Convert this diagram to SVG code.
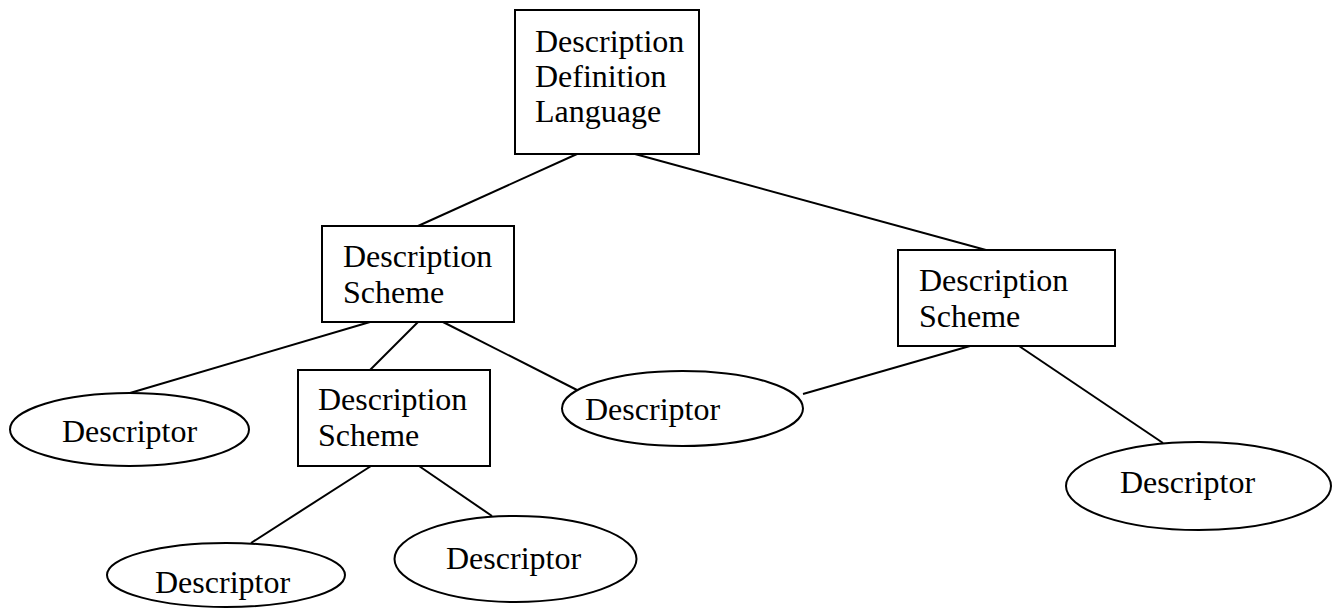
<svg xmlns="http://www.w3.org/2000/svg" width="1333" height="608" viewBox="0 0 1333 608">
  <style>
    .box { fill: #fff; stroke: #000; stroke-width: 2; }
    .oval { fill: #fff; stroke: #000; stroke-width: 2; }
    .link { stroke: #000; stroke-width: 2; fill: none; }
    text { font-family: 'Liberation Serif', 'DejaVu Serif', serif; font-size: 32px; fill: #000; }
  </style>
  <rect width="1333" height="608" fill="#fff"/>

  <!-- connectors -->
  <g id="connectors">
    <line class="link" x1="577" y1="154" x2="418" y2="226"/>
    <line class="link" x1="635" y1="154" x2="986" y2="250"/>
    <line class="link" x1="370" y1="322" x2="130" y2="393"/>
    <line class="link" x1="418" y1="322" x2="370" y2="370"/>
    <line class="link" x1="443" y1="322" x2="577" y2="390"/>
    <line class="link" x1="970" y1="346" x2="803" y2="394"/>
    <line class="link" x1="1019" y1="346" x2="1163" y2="443"/>
    <line class="link" x1="371" y1="466" x2="251" y2="543"/>
    <line class="link" x1="419" y1="466" x2="492" y2="516"/>
  </g>

  <!-- root box -->
  <g id="ddl">
    <rect class="box" x="515" y="10" width="184" height="144"/>
    <text x="535" y="52" font-family="Liberation Serif, serif">Description</text>
    <text x="535" y="87" font-family="Liberation Serif, serif">Definition</text>
    <text x="535" y="122" font-family="Liberation Serif, serif">Language</text>
  </g>

  <!-- description schemes -->
  <g id="ds-left">
    <rect class="box" x="322" y="226" width="192" height="96"/>
    <text x="343" y="267">Description</text>
    <text x="343" y="303">Scheme</text>
  </g>
  <g id="ds-middle">
    <rect class="box" x="298" y="370" width="192" height="96"/>
    <text x="318" y="410">Description</text>
    <text x="318" y="446">Scheme</text>
  </g>
  <g id="ds-right">
    <rect class="box" x="898" y="250" width="217" height="96"/>
    <text x="919" y="291">Description</text>
    <text x="919" y="327">Scheme</text>
  </g>

  <!-- descriptors -->
  <g id="d-left">
    <ellipse class="oval" cx="129.5" cy="429.5" rx="119.5" ry="36.5"/>
    <text x="62" y="442">Descriptor</text>
  </g>
  <g id="d-middle">
    <ellipse class="oval" cx="682.5" cy="408.5" rx="120.5" ry="37.5"/>
    <text x="585" y="420">Descriptor</text>
  </g>
  <g id="d-right">
    <ellipse class="oval" cx="1198.5" cy="486" rx="132.5" ry="44"/>
    <text x="1120" y="493">Descriptor</text>
  </g>
  <g id="d-bottom-left">
    <ellipse class="oval" cx="226" cy="575" rx="119" ry="32"/>
    <text x="155" y="593">Descriptor</text>
  </g>
  <g id="d-bottom-middle">
    <ellipse class="oval" cx="515.5" cy="559" rx="121" ry="43"/>
    <text x="446" y="569">Descriptor</text>
  </g>
</svg>
